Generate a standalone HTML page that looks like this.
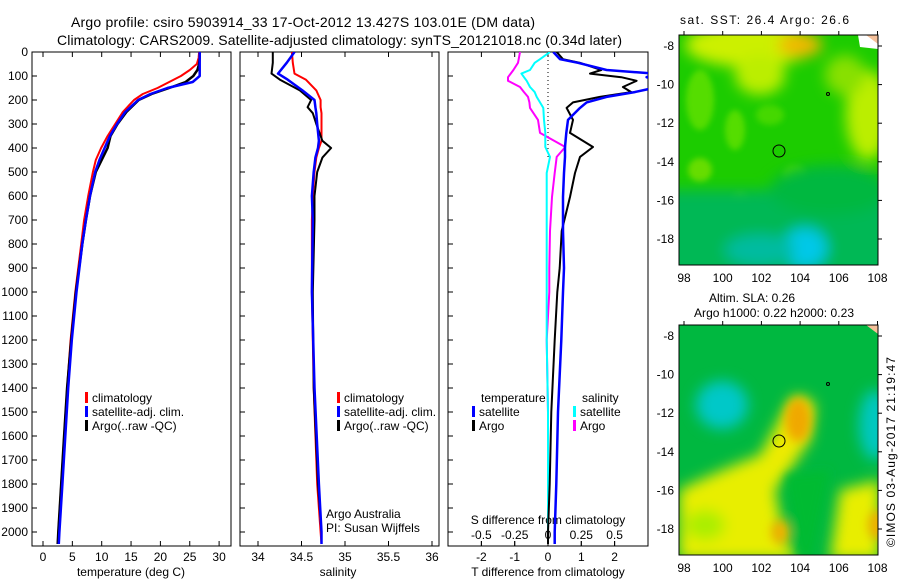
<!DOCTYPE html>
<html><head><meta charset="utf-8"><style>
html,body{margin:0;padding:0;background:#fff}
svg{display:block;font-family:"Liberation Sans",sans-serif}
text{font-size:12px;fill:#000}
</style></head><body>
<svg id="c" width="900" height="580" viewBox="0 0 900 580">
<defs>
<filter id="b1" x="-50%" y="-50%" width="200%" height="200%"><feGaussianBlur stdDeviation="9"/></filter>
<filter id="b2" x="-50%" y="-50%" width="200%" height="200%"><feGaussianBlur stdDeviation="5"/></filter>
<filter id="b3" x="-50%" y="-50%" width="200%" height="200%"><feGaussianBlur stdDeviation="7"/></filter>
<filter id="b4" x="-50%" y="-50%" width="200%" height="200%"><feGaussianBlur stdDeviation="3"/></filter>
<clipPath id="cp1"><rect x="32" y="52" width="199" height="494"/></clipPath>
<clipPath id="cp2"><rect x="240" y="52" width="199" height="494"/></clipPath>
<clipPath id="cp3"><rect x="448" y="52" width="200" height="494"/></clipPath>
<clipPath id="cm1"><rect x="679" y="35" width="199" height="230"/></clipPath>
<clipPath id="cm2"><rect x="679" y="325" width="199" height="230"/></clipPath>
</defs>
<text x="71" y="27" textLength="464" style="font-size:14px">Argo profile: csiro 5903914_33 17-Oct-2012 13.427S 103.01E (DM data)</text>
<text x="57" y="45" textLength="565" style="font-size:14px">Climatology: CARS2009. Satellite-adjusted climatology: synTS_20121018.nc (0.34d later)</text>

<!-- top map -->
<g clip-path="url(#cm1)">
<rect x="679" y="35" width="199" height="230" fill="#1ccc00"/>
<g filter="url(#b4)">
<ellipse cx="700" cy="100" rx="14" ry="30" fill="#55dd00"/>
<ellipse cx="735" cy="130" rx="10" ry="20" fill="#55dd00"/>
<ellipse cx="700" cy="170" rx="12" ry="12" fill="#66dd00"/>
<ellipse cx="770" cy="115" rx="14" ry="10" fill="#44d800"/>
<ellipse cx="795" cy="175" rx="12" ry="10" fill="#44d800"/>
<ellipse cx="740" cy="200" rx="8" ry="8" fill="#44d800"/>
</g>
<g filter="url(#b3)">
<ellipse cx="750" cy="45" rx="65" ry="22" fill="#ccf000"/>
<ellipse cx="760" cy="75" rx="25" ry="20" fill="#bbee00"/>
<ellipse cx="800" cy="45" rx="22" ry="12" fill="#f0b800"/>
<ellipse cx="868" cy="115" rx="22" ry="45" fill="#bbee00"/>
<ellipse cx="845" cy="75" rx="20" ry="20" fill="#88e000"/>
<rect x="660" y="190" width="240" height="90" fill="#00b855"/>
<ellipse cx="830" cy="190" rx="60" ry="25" fill="#00b840"/>
<ellipse cx="805" cy="248" rx="22" ry="20" fill="#00c8e8"/>
<ellipse cx="760" cy="250" rx="35" ry="15" fill="#00bba0"/>
</g>
<path d="M858 35 L878 35 L878 49 L860 47 Z" fill="#fff"/>
<path d="M866 35 L878 35 L878 44 Z" fill="#f5c09a"/>
</g>
<rect x="679" y="35" width="199" height="230" fill="none" stroke="#000"/>
<circle cx="779" cy="151" r="6" fill="none" stroke="#000"/>
<circle cx="828" cy="94" r="1.5" fill="none" stroke="#000"/>
<text x="680" y="24" textLength="169">sat. SST: 26.4  Argo: 26.6</text>

<!-- bottom map -->
<g clip-path="url(#cm2)">
<rect x="679" y="325" width="199" height="230" fill="#00b840"/>
<g filter="url(#b3)">
<ellipse cx="722" cy="405" rx="26" ry="24" fill="#00c8c8"/>
<ellipse cx="875" cy="425" rx="16" ry="35" fill="#00c8c0"/>
<path d="M790 400 Q800 390 815 405 L810 440 Q800 455 790 470 L775 490 L785 540 L800 560 L679 560 L679 490 Q720 470 760 455 Z" fill="#e8ee00"/>
<path d="M790 400 Q800 390 815 405 L810 440 L795 460 L770 465 Z" fill="#eeea00"/>
<path d="M840 490 L880 480 L880 560 L830 560 Z" fill="#e8ee00"/>
<ellipse cx="705" cy="525" rx="20" ry="15" fill="#aaee00"/>
</g>
<g filter="url(#b2)">
<ellipse cx="798" cy="420" rx="13" ry="22" fill="#f0a800"/>
<ellipse cx="878" cy="525" rx="10" ry="15" fill="#f0b000"/>
<ellipse cx="780" cy="532" rx="9" ry="12" fill="#f0b000"/>
<path d="M785 475 L830 470 L812 560 L800 560 Z" fill="#00bb33"/>
</g>
<path d="M866 325 L878 325 L878 334 Z" fill="#f5c09a"/>
</g>
<rect x="679" y="325" width="199" height="230" fill="none" stroke="#000"/>
<circle cx="779" cy="441" r="6" fill="none" stroke="#000"/>
<circle cx="828" cy="384" r="1.5" fill="none" stroke="#000"/>
<text x="709" y="302">Altim. SLA: 0.26</text>
<text x="694" y="317" textLength="160">Argo h1000: 0.22 h2000: 0.23</text>
<text transform="translate(895,547) rotate(-90)" textLength="190">©IMOS 03-Aug-2017 21:19:47</text>
<g id="g"></g>
</svg>
<script>
// ---- data ----
const depths = [0,25,50,75,100,125,150,175,200,250,300,350,400,450,500,600,700,800,1000,1200,1400,1600,1800,2000,2050];
const climT  = [26.6,26.5,26.2,25.0,23.5,21.5,19.5,17.0,15.5,13.6,12.3,11.0,9.9,9.0,8.5,7.7,7.0,6.5,5.5,4.7,4.1,3.6,3.1,2.6,2.5];
const argoT  = [26.7,26.7,26.6,26.3,25.6,24.3,21.5,18.5,16.3,14.2,12.7,11.5,11.0,10.0,9.0,8.0,7.3,6.7,5.6,4.8,4.1,3.6,3.1,2.6,2.5];
const satT   = [26.7,26.7,26.7,26.7,26.7,25.5,21.2,18.3,16.2,14.0,12.6,11.4,10.5,9.6,8.9,8.0,7.3,6.7,5.7,4.9,4.3,3.8,3.3,2.8,2.7];
const sDepths = [0,45,90,115,160,200,230,255,300,370,400,440,500,600,700,1000,1400,1800,2000,2050];
const climS = [34.39,34.40,34.42,34.55,34.67,34.72,34.72,34.73,34.73,34.73,34.70,34.67,34.65,34.63,34.62,34.62,34.64,34.68,34.72,34.73];
const argoS = [34.17,34.17,34.155,34.25,34.48,34.61,34.57,34.63,34.67,34.74,34.84,34.74,34.68,34.65,34.65,34.63,34.64,34.69,34.73,34.73];
const satS  = [34.42,34.33,34.23,34.34,34.51,34.65,34.66,34.67,34.68,34.70,34.69,34.66,34.64,34.62,34.63,34.62,34.65,34.70,34.73,34.73];
const dDepths = [0,30,45,75,90,105,120,146,167,187,210,233,283,337,396,437,504,604,746,900,1000,1200,1500,1800,2000,2050];
const argoTd = [0.26,0.45,0.96,1.6,1.26,2.2,2.66,2.25,2.5,1.56,0.75,0.56,0.75,0.66,1.35,0.96,0.81,0.66,0.41,0.35,0.28,0.2,0.1,0.05,0.0,0.0];
const satTd  = [0.16,0.36,0.9,1.76,3.2,2.96,3.3,3.3,2.6,1.76,1.16,0.96,0.6,0.55,0.51,0.51,0.48,0.45,0.45,0.48,0.45,0.4,0.3,0.25,0.2,0.2];
const argoSd = [-0.21,-0.22,-0.225,-0.26,-0.28,-0.3,-0.3,-0.21,-0.18,-0.15,-0.14,-0.135,-0.075,-0.06,0.13,0.065,0.05,0.03,0.015,0.01,0.01,-0.01,0.0,0.0,0.0,0.0];
const satSd  = [0.015,-0.06,-0.1,-0.135,-0.2,-0.18,-0.16,-0.135,-0.1,-0.085,-0.06,-0.035,-0.03,-0.02,-0.02,0.015,-0.01,-0.01,-0.01,-0.01,-0.01,-0.01,0.0,0.0,0.0,0.0];
const depthTicks = [0,100,200,300,400,500,600,700,800,900,1000,1100,1200,1300,1400,1500,1600,1700,1800,1900,2000];
const tTicks = [0,5,10,15,20,25,30];
const sTicks = [34,34.5,35,35.5,36];
const tdTicks = [-2,-1,0,1,2];
const tdLabels = ["-2","-1","0","1","2"];
const sdTicks = [-0.5,-0.25,0,0.25,0.5];
const sdLabels = ["-0.5","-0.25","0","0.25","0.5"];
const lonTicks = [98,100,102,104,106,108];
const latTicks = [-8,-10,-12,-14,-16,-18];

// ---- scales ----
const yD = d => 52 + d*0.24;
const xT = t => 43 + t*5.87;
const xS = s => 258 + (s-34)*87;
const xTd = t => 548 + t*33.3;
const xSd = s => 548 + s*133.2;
const xLon = l => 684 + (l-98)*19.35;
const yLat1 = l => 46 + (-8-l)*19.3;
const yLat2 = l => 336 + (-8-l)*19.3;

const NS='http://www.w3.org/2000/svg';
const G=document.getElementById('g');
function mk(tag,attrs,parent){const e=document.createElementNS(NS,tag);for(const k in attrs)e.setAttribute(k,attrs[k]);(parent||G).appendChild(e);return e;}
function txt(x,y,s,anchor){const e=mk('text',{x:x,y:y,'text-anchor':anchor||'start'});e.textContent=s;return e;}

// frames
[[32,'temperature-panel'],[240,'salinity-panel'],[448,'difference-panel']].forEach(([x,n],i)=>{
  const r=mk('rect',{x:x,y:52,width:i==2?200:199,height:494,fill:'none',stroke:'#000','stroke-width':1});
  
  
  depthTicks.forEach(d=>{mk('line',{x1:x,x2:x+5,y1:yD(d),y2:yD(d),stroke:'#000'});});
});
depthTicks.forEach(d=>{
  const t=txt(28,yD(d)+4,String(d),'end');
  
  
});
function xticks(vals,labels,f,ly){
  vals.forEach((v,i)=>{
    mk('line',{x1:f(v),x2:f(v),y1:52,y2:57,stroke:'#000'});
    mk('line',{x1:f(v),x2:f(v),y1:546,y2:541,stroke:'#000'});
    const t=txt(f(v),ly,labels[i],'middle');
    
    
  });
}
xticks(tTicks,tTicks.map(String),xT,561);
xticks(sTicks,sTicks.map(String),xS,561);
xticks(tdTicks,tdLabels,xTd,561);
sdTicks.forEach((v,i)=>{
  mk('line',{x1:xSd(v),x2:xSd(v),y1:546,y2:541,stroke:'#000'});
  const t=txt(xSd(v),539,sdLabels[i],'middle');
  
  
});
let t;
t=txt(131,576,'temperature (deg C)','middle');


t=txt(338,576,'salinity','middle');


t=txt(548,576,'T difference from climatology','middle');


t=txt(548,524,'S difference from climatology','middle');


t=txt(326,518,'Argo Australia');


t=txt(326,532,'PI: Susan Wijffels');



// zero line
mk('line',{x1:548,x2:548,y1:52,y2:160,stroke:'#000','stroke-dasharray':'1,3'});

function series(vals,ds,fx,color,w,clip,name){
  const pts=vals.map((v,i)=>fx(v).toFixed(1)+','+yD(ds[i]).toFixed(1)).join(' ');
  const p=mk('polyline',{points:pts,fill:'none',stroke:color,'stroke-width':w,'clip-path':'url(#'+clip+')','stroke-linejoin':'round'});
  
  
}
series(climT,depths,xT,'#f00',2,'cp1','temperature-climatology-line');
series(argoT,depths,xT,'#000',2.5,'cp1','temperature-argo-line');
series(satT,depths,xT,'#00f',2.5,'cp1','temperature-satellite-line');
series(climS,sDepths,xS,'#f00',2,'cp2','salinity-climatology-line');
series(argoS,sDepths,xS,'#000',2,'cp2','salinity-argo-line');
series(satS,sDepths,xS,'#00f',2.5,'cp2','salinity-satellite-line');
series(argoSd,dDepths,xSd,'#f0f',2,'cp3','s-diff-argo-line');
series(satSd,dDepths,xSd,'#0ff',2,'cp3','s-diff-satellite-line');
series(argoTd,dDepths,xTd,'#000',2,'cp3','t-diff-argo-line');
series(satTd,dDepths,xTd,'#00f',2.5,'cp3','t-diff-satellite-line');

function legend(x,y,color,label){
  mk('rect',{x:x,y:y-10,width:3,height:11,fill:color});
  const e=txt(x+7,y,label);
  
  
}
[[85,'climatology','#f00'],[85,'satellite-adj. clim.','#00f'],[85,'Argo(..raw -QC)','#000']].forEach((r,i)=>legend(r[0],402+i*14,r[2],r[1]));
[[337,'climatology','#f00'],[337,'satellite-adj. clim.','#00f'],[337,'Argo(..raw -QC)','#000']].forEach((r,i)=>legend(r[0],402+i*14,r[2],r[1]));
t=txt(481,402,'temperature');


t=txt(582,402,'salinity');


legend(472,416,'#00f','satellite');legend(472,430,'#000','Argo');
legend(573,416,'#0ff','satellite');legend(573,430,'#f0f','Argo');

// map ticks
[[yLat1,35,265],[yLat2,325,555]].forEach(([fy,top,bot])=>{
  lonTicks.forEach(l=>{
    mk('line',{x1:xLon(l),x2:xLon(l),y1:top,y2:top-4,stroke:'#000'});
    const e=txt(xLon(l),bot+17,String(l),'middle');
    
    
  });
  latTicks.forEach(l=>{
    mk('line',{x1:878,x2:882,y1:fy(l),y2:fy(l),stroke:'#000'});
    const e=txt(674,fy(l)+4,String(l),'end');
    
    
  });
});
</script>
</body></html>
